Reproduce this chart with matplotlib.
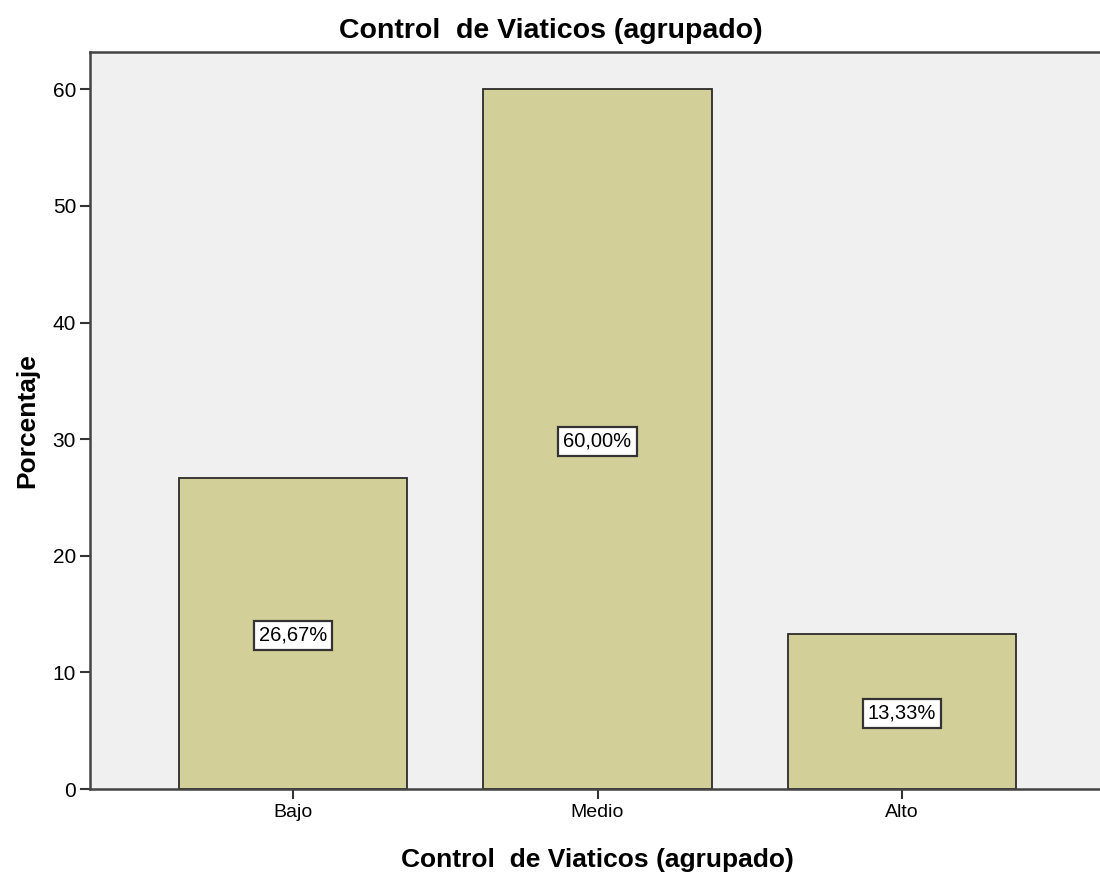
import matplotlib
matplotlib.use('Agg')
import matplotlib.pyplot as plt

plt.rcParams['font.family'] = ['Liberation Sans', 'DejaVu Sans']

categorias = ['Bajo', 'Medio', 'Alto']
porcentajes = [26.67, 60.00, 13.33]
etiquetas = ['26,67%', '60,00%', '13,33%']
yticks = [0, 10, 20, 30, 40, 50, 60]

fig = plt.figure(figsize=(11, 8.72), dpi=100)
# the axes runs past the right edge, like in the original export
ax = fig.add_axes([90 / 1100, 1 - 789 / 872, 1015 / 1100, (789 - 52) / 872])
ax.set_facecolor('#f0f0f0')

x = range(len(categorias))
ax.bar(x, porcentajes, width=0.75, color='#d3cf98', edgecolor='#2b2b2b', linewidth=1.3, zorder=2)

for i, (v, lab) in enumerate(zip(porcentajes, etiquetas)):
    ax.text(i, v / 2, lab, ha='center', va='center_baseline', fontsize=14.5, zorder=3,
            bbox=dict(boxstyle='square,pad=0.25', facecolor='white', edgecolor='#333333', linewidth=1.6))

ax.set_xlim(-0.667, 2.667)
ax.set_ylim(0, 63.2)
ax.set_xticks(list(x))
ax.set_xticklabels(categorias, fontsize=14)
ax.set_yticks(yticks)
ax.set_yticklabels([str(t) for t in yticks], fontsize=15)
ax.tick_params(axis='both', length=7, width=1.5, color='#333333')
ax.tick_params(axis='y', pad=3)

for s in ['left', 'bottom', 'top']:
    ax.spines[s].set_linewidth(1.8)
    ax.spines[s].set_color('#444444')
ax.spines['right'].set_visible(False)

fig.text(551 / 1100, 1 - 31 / 872, 'Control  de Viaticos (agrupado)', fontsize=20.5,
         fontweight='bold', ha='center', va='center')
ax.set_xlabel('Control  de Viaticos (agrupado)', fontsize=19, fontweight='bold', labelpad=20)
ax.set_ylabel('Porcentaje', fontsize=19, fontweight='bold', labelpad=10)

fig.savefig('out.png', dpi=100)
